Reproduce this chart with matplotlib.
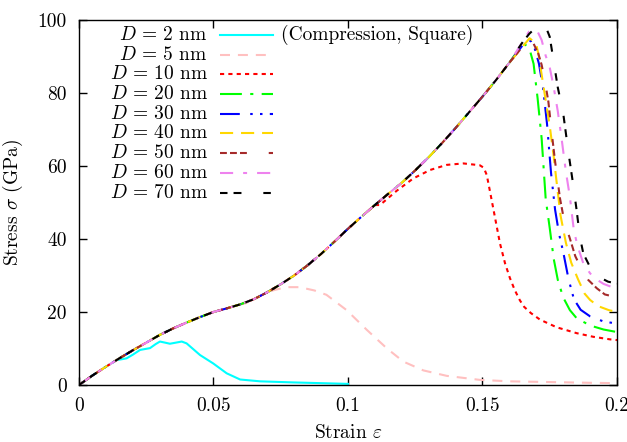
import matplotlib
matplotlib.use('Agg')
import matplotlib.pyplot as plt
from matplotlib.ticker import FuncFormatter, MultipleLocator
import numpy as np

plt.rcParams['font.family'] = 'cmr10'
plt.rcParams['mathtext.fontset'] = 'cm'
plt.rcParams['axes.formatter.use_mathtext'] = True
plt.rcParams['font.size'] = 14

# shared loading branch (all diameters sit on it before they split off)
base_strain = [0, .005, .01, .015, .02, .025, .03, .035, .04, .045, .05, .055, .06, .065,
               .07, .075, .08, .085, .09, .095, .10, .105, .11, .115, .12, .125, .13, .135,
               .14, .145, .15, .155, .16]
base_stress = [0, 2.6, 5.0, 7.3, 9.5, 11.6, 13.7, 15.5, 17.1, 18.6, 20.0, 21.0, 22.1, 23.5,
               25.4, 27.6, 30.0, 32.8, 35.9, 39.3, 42.8, 46.1, 49.3, 52.4, 55.4, 58.8, 62.4,
               66.3, 70.4, 74.7, 79.0, 83.5, 88.3]

# post-split parts of each curve
d2_strain = [0.014, 0.0177, 0.02, 0.0227, 0.0264, 0.0285, 0.0301, 0.032, 0.0338, 0.036, 0.0382,
             0.04, 0.0425, 0.045, 0.0499, 0.0549, 0.0599, 0.0673, 0.0797, 0.09, 0.1]
d2_stress = [6.8, 7.3, 8.3, 9.6, 10.1, 11.2, 11.9, 11.6, 11.3, 11.6, 11.9,
             11.4, 9.8, 8.2, 5.9, 3.2, 1.5, 1.0, 0.7, 0.5, 0.3]

d5_strain = [0.062, 0.067, 0.072, 0.077, 0.082, 0.0875, 0.092, 0.0995, 0.107, 0.1145, 0.1206,
             0.128, 0.1367, 0.149, 0.16, 0.175, 0.19, 0.2]
d5_stress = [22.4, 24.3, 25.9, 26.8, 26.8, 25.9, 24.7, 20.5, 15.1, 10.0, 6.4,
             4.0, 2.5, 1.4, 1.0, 0.8, 0.6, 0.5]

d10_strain = [0.1119, 0.1181, 0.1243, 0.1305, 0.1367, 0.1429, 0.149, 0.1505, 0.1516, 0.1528,
              0.1546, 0.1565, 0.1584, 0.1602, 0.162, 0.1639, 0.1655, 0.168, 0.1714, 0.1776,
              0.185, 0.1912, 0.1974, 0.2]
d10_stress = [49.3, 53.2, 56.6, 58.9, 60.3, 60.7, 60.2, 59.5, 57.5, 53.0,
              46.1, 38.8, 33.3, 29.3, 26.0, 23.2, 21.4, 19.7, 17.9, 15.8,
              14.2, 13.2, 12.5, 12.3]

d20_strain = [0.1652, 0.1675, 0.169, 0.1705, 0.172, 0.1735, 0.175, 0.1765, 0.178, 0.18, 0.1825,
              0.185, 0.19, 0.195, 0.2]
d20_stress = [93.8, 92.0, 88.0, 78.5, 67.5, 51.0, 43.0, 34.5, 28.8, 24.0, 20.5,
              18.3, 16.3, 15.2, 14.5]

d30_strain = [0.1665, 0.168, 0.1695, 0.171, 0.1725, 0.174, 0.1755, 0.177, 0.1785, 0.18, 0.182,
              0.184, 0.1865, 0.19, 0.195, 0.2]
d30_stress = [94.6, 94.2, 92.0, 88.0, 81.5, 71.5, 58.0, 48.0, 41.3, 36.5, 29.0,
              23.5, 20.6, 18.8, 17.4, 16.8]

d40_strain = [0.1675, 0.1699, 0.171, 0.172, 0.1735, 0.175, 0.1765, 0.1775, 0.179, 0.181, 0.183,
              0.1855, 0.188, 0.19, 0.193, 0.197, 0.2]
d40_stress = [95.0, 93.6, 90.0, 85.0, 78.0, 71.0, 62.5, 56.0, 46.5, 39.0, 33.5,
              29.0, 25.0, 23.3, 21.6, 20.5, 20.0]

d50_strain = [0.1675, 0.169, 0.1707, 0.172, 0.1735, 0.1745, 0.176, 0.177, 0.1788, 0.1805, 0.1823,
              0.1845, 0.187, 0.1893, 0.1925, 0.1955, 0.2]
d50_stress = [95.0, 93.5, 90.9, 87.7, 82.0, 77.6, 67.5, 61.2, 51.2, 44.5, 40.6,
              35.3, 31.5, 28.8, 26.5, 24.8, 24.0]

d60_strain = [0.1673, 0.169, 0.1705, 0.172, 0.1735, 0.175, 0.1765, 0.178, 0.1795, 0.181, 0.1825,
              0.184, 0.1855, 0.1875, 0.19, 0.1918, 0.195, 0.2]
d60_stress = [96.8, 97.3, 96.8, 94.5, 90.2, 87.0, 81.5, 75.0, 67.0, 58.5, 51.5,
              42.2, 37.7, 33.3, 30.6, 29.2, 27.7, 26.3]

d70_strain = [0.1627, 0.165, 0.1675, 0.17, 0.172, 0.1735, 0.175, 0.1765, 0.178, 0.18, 0.182,
              0.1835, 0.185, 0.1862, 0.1875, 0.19, 0.193, 0.1967, 0.2]
d70_stress = [91.5, 94.0, 96.3, 98.0, 98.9, 98.2, 95.4, 88.5, 81.5, 74.5, 63.5,
              56.0, 47.9, 40.6, 36.0, 32.3, 29.7, 28.3, 27.8]

diameters = [2, 5, 10, 20, 30, 40, 50, 60, 70]
labels = [r'$D\,=\,%d$ nm' % d for d in diameters]
tails = [(d2_strain, d2_stress), (d5_strain, d5_stress), (d10_strain, d10_stress),
         (d20_strain, d20_stress), (d30_strain, d30_stress), (d40_strain, d40_stress),
         (d50_strain, d50_stress), (d60_strain, d60_stress), (d70_strain, d70_stress)]

colors = ['#00ffff', '#ffc0c0', '#ff0000', '#00ff00', '#0000ff', '#ffd700',
          '#a52a2a', '#ee82ee', '#000000']
# dash patterns in units of line width
dashes = [None,
          (4.8, 3.8),
          (2.0, 2.0),
          (10.5, 4.0, 1.5, 4.0),
          (9.5, 5.0, 1.2, 3.5, 1.2, 3.5),
          (6.3, 3.8),
          (3.3, 1.5, 3.3, 1.5, 3.3, 10.5),
          (6.3, 4.8, 1.9, 4.8),
          (3.6, 2.9, 3.8, 10.5)]

fig = plt.figure(figsize=(6.27, 4.42), dpi=100)
ax = fig.add_axes([0.126, 0.129, 0.858, 0.8258])

base_strain = np.array(base_strain)
base_stress = np.array(base_stress)

def build_curve(tail_strain, tail_stress):
    keep = base_strain < tail_strain[0]
    x = np.concatenate([base_strain[keep], tail_strain])
    y = np.concatenate([base_stress[keep], tail_stress])
    return x, y

lw = 1.5
styles = []
for (ts, tv), c, d in zip(tails, colors, dashes):
    x, y = build_curve(ts, tv)
    kw = dict(color=c, lw=lw)
    if d is None:
        kw['linestyle'] = '-'
    else:
        kw['linestyle'] = (0, d)
    ax.plot(x, y, **kw)
    styles.append(kw)

# key, gnuplot style: right-aligned titles with line samples to the right
for i, (lab, kw) in enumerate(zip(labels, styles)):
    yk = (385 - (35 + i * 19.7)) / 365.0
    ax.text(0.2398, yk, lab, ha='right', va='center', transform=ax.transAxes)
    ax.plot([0.262, 0.3606], [yk, yk], transform=ax.transAxes, clip_on=False, **kw)
ax.text(0.375, (385 - 35) / 365.0, '(Compression, Square)', ha='left', va='center',
        transform=ax.transAxes)

ax.set_xlim(0, 0.2)
ax.set_ylim(0, 100)
ax.xaxis.set_major_locator(MultipleLocator(0.05))
ax.yaxis.set_major_locator(MultipleLocator(20))
ax.xaxis.set_major_formatter(FuncFormatter(lambda v, p: '%g' % round(v, 3)))
ax.yaxis.set_major_formatter(FuncFormatter(lambda v, p: '%g' % v))
ax.tick_params(direction='in', top=True, right=True, length=6, width=1)
ax.tick_params(axis='x', pad=9)
ax.tick_params(axis='y', pad=9)
for s in ax.spines.values():
    s.set_linewidth(1.0)

ax.set_xlabel(r'Strain $\varepsilon$')
ax.set_ylabel(r'Stress $\sigma$ (GPa)')
ax.xaxis.set_label_coords(0.5, -0.106)
ax.yaxis.set_label_coords(-0.1, 0.5)

plt.savefig('out.png', dpi=100)
